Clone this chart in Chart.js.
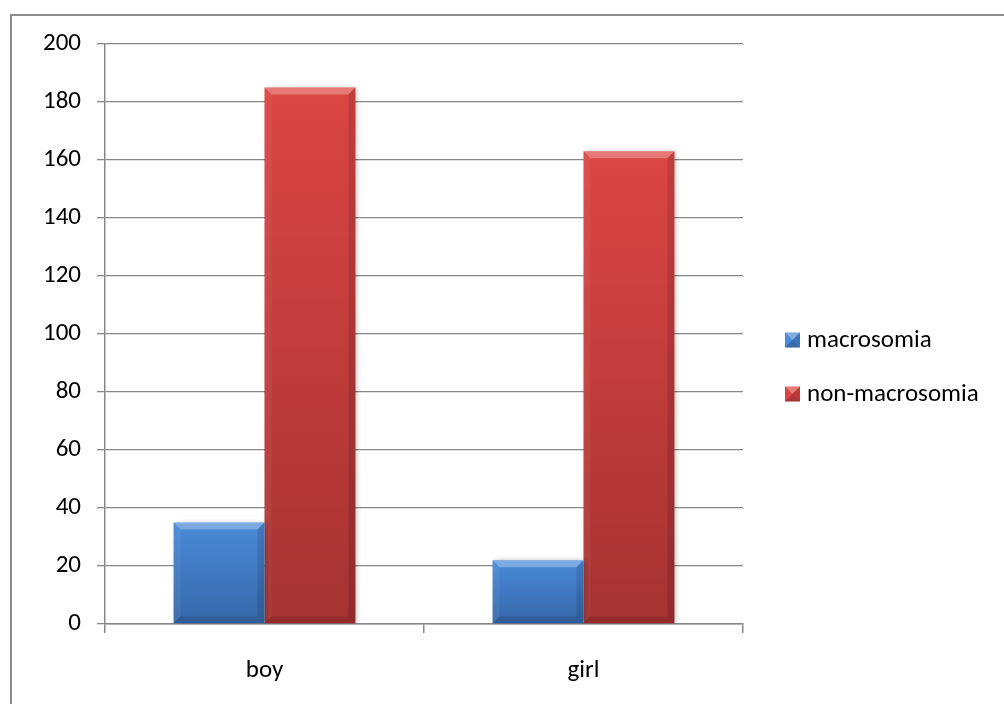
<!DOCTYPE html>
<html>
<head>
<meta charset="utf-8">
<script src="https://cdn.jsdelivr.net/npm/chart.js@4.4.1/dist/chart.umd.min.js"></script>
<style>
  html, body { margin: 0; padding: 0; background: #fff; }
  #wrap { position: relative; width: 1004px; height: 704px; }
  #frame {
    position: absolute; left: 10px; top: 14px; right: 0; bottom: 0;
    border-top: 2px solid #8c8c8c; border-left: 2px solid #8c8c8c;
    pointer-events: none;
  }
</style>
</head>
<body>
<div id="wrap">
  <canvas id="chart"></canvas>
  <div id="frame"></div>
</div>
<script>
// Data
const categories = ["boy", "girl"];
const seriesNames = ["macrosomia", "non-macrosomia"];
const macrosomia = [35, 22];
const nonMacrosomia = [185, 163];
const yMin = 0, yMax = 200, yStep = 20;

const FONT = "Calibri, Carlito, Lato, sans-serif";
const FONT_SIZE = 25;
const GRID = "#878787";

// top / bottom shades for each series
const blue = { light: "#4a8ad8", dark: "#3667a9" };
const red = { light: "#db4644", dark: "#a53232" };

// vertical gradient per bar, from its own top down to the baseline
function barFill(shade) {
  return ctx => {
    const chart = ctx.chart;
    if (!chart.chartArea || ctx.type !== "data") return shade.dark;
    const y = chart.scales.y;
    const top = y.getPixelForValue(ctx.raw);
    const bottom = y.getPixelForValue(0);
    const g = chart.ctx.createLinearGradient(0, top, 0, bottom);
    g.addColorStop(0, shade.light);
    g.addColorStop(1, shade.dark);
    return g;
  };
}

function poly(c, pts, color) {
  c.beginPath();
  c.moveTo(pts[0][0], pts[0][1]);
  for (let i = 1; i < pts.length; i++) c.lineTo(pts[i][0], pts[i][1]);
  c.closePath();
  c.fillStyle = color;
  c.fill();
}

// soft shadow behind bars + bevelled edges on top of them
const bevelBars = {
  id: "bevelBars",
  beforeDatasetsDraw(chart) {
    const c = chart.ctx;
    c.save();
    c.shadowColor = "rgba(0,0,0,0.28)";
    c.shadowBlur = 5;
    c.shadowOffsetX = 2;
    c.shadowOffsetY = 0;
  },
  afterDatasetsDraw(chart) {
    const c = chart.ctx;
    c.restore();
    c.save();
    chart.data.datasets.forEach((ds, i) => {
      chart.getDatasetMeta(i).data.forEach(bar => {
        const { x, y, base, width } = bar.getProps(["x", "y", "base", "width"], true);
        const l = x - width / 2, r = x + width / 2, t = y, b = base;
        const d = Math.min(7, (b - t) / 2);
        poly(c, [[l, t], [r, t], [r - d, t + d], [l + d, t + d]], "rgba(255,255,255,0.28)");
        poly(c, [[l, t], [l + d, t + d], [l + d, b - d], [l, b]], "rgba(255,255,255,0.05)");
        poly(c, [[r, t], [r, b], [r - d, b - d], [r - d, t + d]], "rgba(0,0,0,0.12)");
        poly(c, [[l, b], [l + d, b - d], [r - d, b - d], [r, b]], "rgba(0,0,0,0.1)");
      });
    });
    c.restore();
  }
};

// legend on the right, pyramid-shaded markers
const sideLegend = {
  id: "sideLegend",
  afterDraw(chart) {
    const c = chart.ctx;
    const shades = [blue, red];
    const x0 = 785, s = 15, rowY = [340, 394];
    c.save();
    chart.data.datasets.forEach((ds, i) => {
      const cy = rowY[i], t = cy - s / 2, l = x0, r = x0 + s, b = cy + s / 2;
      const mx = l + s / 2, my = cy;
      poly(c, [[l, t], [r, t], [r, b], [l, b]], shades[i].light);
      poly(c, [[l, t], [r, t], [mx, my]], "rgba(255,255,255,0.3)");
      poly(c, [[r, t], [r, b], [mx, my]], "rgba(0,0,0,0.15)");
      poly(c, [[l, b], [r, b], [mx, my]], "rgba(0,0,0,0.22)");
      c.fillStyle = "#000";
      c.font = FONT_SIZE + "px " + FONT;
      c.textBaseline = "middle";
      c.textAlign = "left";
      c.fillText(ds.label, x0 + 22, cy + 1);
    });
    c.restore();
  }
};

new Chart(document.getElementById("chart"), {
  type: "bar",
  data: {
    labels: categories,
    datasets: [
      { label: seriesNames[0], data: macrosomia, backgroundColor: barFill(blue) },
      { label: seriesNames[1], data: nonMacrosomia, backgroundColor: barFill(red) }
    ]
  },
  options: {
    responsive: true,
    maintainAspectRatio: false,
    animation: false,
    layout: { padding: { left: 10, top: 44, right: 261, bottom: 0 } },
    datasets: { bar: { categoryPercentage: 0.57, barPercentage: 1.0, borderWidth: 0 } },
    plugins: { legend: { display: false }, tooltip: { enabled: false } },
    scales: {
      x: {
        grid: { drawOnChartArea: false, offset: true, tickLength: 9, color: GRID, lineWidth: 1.5 },
        border: { color: GRID, width: 1.5 },
        ticks: { color: "#000", padding: 23, font: { size: FONT_SIZE, family: FONT } },
        afterFit(scale) { scale.height = 80; }
      },
      y: {
        min: yMin,
        max: yMax,
        grid: { color: GRID, lineWidth: 1.3, tickLength: 8 },
        border: { color: GRID, width: 1.5 },
        ticks: { stepSize: yStep, color: "#000", padding: 16, font: { size: FONT_SIZE, family: FONT } },
        afterFit(scale) { scale.width = 95; }
      }
    }
  },
  plugins: [bevelBars, sideLegend]
});
</script>
</body>
</html>
